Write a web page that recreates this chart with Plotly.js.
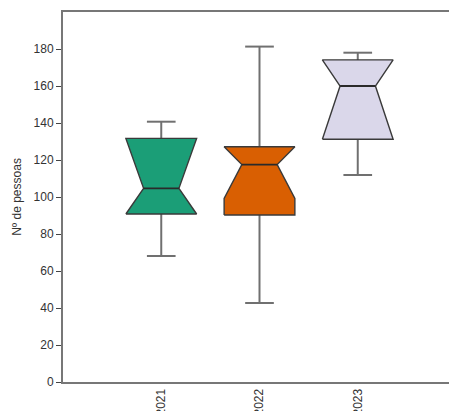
<!DOCTYPE html>
<html>
<head>
<meta charset="utf-8">
<script src="https://cdn.plot.ly/plotly-3.0.1.min.js"></script>
<style>
html,body{margin:0;padding:0;overflow:hidden;background:#fff;}
#chart{width:470px;height:411px;}
</style>
</head>
<body>
<div id="chart"></div>
<script>
// Data
const years = ['2021', '2022', '2023'];
const lowerWhisker = [68.1, 42.7, 111.9];
const q1 = [90.8, 90.3, 131.2];
const median = [104.7, 117.5, 160.0];
const q3 = [131.7, 127.2, 174.1];
const upperWhisker = [140.7, 181.3, 178.0];
const notchSpan = [28, 18.2, 30];
const colors = ['#1b9e77', '#d95f02', '#dad7ea'];

const boxHalf = 0.36;      // half box width (axis units)
const notchHalf = 0.18;    // half width at the median
const capHalf = 0.146;     // half whisker-cap width

const traces = [];
years.forEach((yr, i) => {
  const c = i;
  const ln = Math.max(median[i] - notchSpan[i], q1[i]);
  const un = Math.min(median[i] + notchSpan[i], q3[i]);
  // whiskers with caps
  traces.push({
    type: 'scatter', mode: 'lines', hoverinfo: 'skip', showlegend: false,
    x: [c, c, null, c, c, null, c - capHalf, c + capHalf, null, c - capHalf, c + capHalf],
    y: [q3[i], upperWhisker[i], null, q1[i], lowerWhisker[i], null,
        upperWhisker[i], upperWhisker[i], null, lowerWhisker[i], lowerWhisker[i]],
    line: {color: '#707070', width: 2}
  });
  // notched box body
  traces.push({
    type: 'scatter', mode: 'lines', fill: 'toself', fillcolor: colors[i],
    hoverinfo: 'skip', showlegend: false, name: yr,
    x: [c - boxHalf, c + boxHalf, c + boxHalf, c + notchHalf, c + boxHalf, c + boxHalf,
        c - boxHalf, c - boxHalf, c - notchHalf, c - boxHalf, c - boxHalf],
    y: [q1[i], q1[i], ln, median[i], un, q3[i], q3[i], un, median[i], ln, q1[i]],
    line: {color: '#3a3a3a', width: 1.4}
  });
  // median line
  traces.push({
    type: 'scatter', mode: 'lines', hoverinfo: 'skip', showlegend: false,
    x: [c - notchHalf, c + notchHalf],
    y: [median[i], median[i]],
    line: {color: '#2a2a2a', width: 1.8}
  });
});

const layout = {
  width: 470, height: 411,
  margin: {l: 63, r: 14, t: 12, b: 29},
  paper_bgcolor: '#fff', plot_bgcolor: '#fff',
  showlegend: false,
  font: {family: 'Liberation Sans, Arial, sans-serif', size: 12, color: '#333'},
  xaxis: {
    range: [-1, 3], tickvals: [0, 1, 2], ticktext: years, tickangle: -90,
    showgrid: false, zeroline: false, showline: true, mirror: true,
    linecolor: '#777', linewidth: 2, ticks: '', fixedrange: true
  },
  yaxis: {
    range: [0, 200], tickvals: [0, 20, 40, 60, 80, 100, 120, 140, 160, 180],
    showgrid: false, zeroline: false, showline: true, mirror: true,
    linecolor: '#777', linewidth: 2, ticks: 'outside', ticklen: 5, tickwidth: 1,
    tickcolor: '#444',
    title: {text: 'Nº de pessoas', font: {size: 12, color: '#333'}, standoff: 9}
  }
};

Plotly.newPlot('chart', traces, layout, {staticPlot: true, displayModeBar: false});
</script>
</body>
</html>
